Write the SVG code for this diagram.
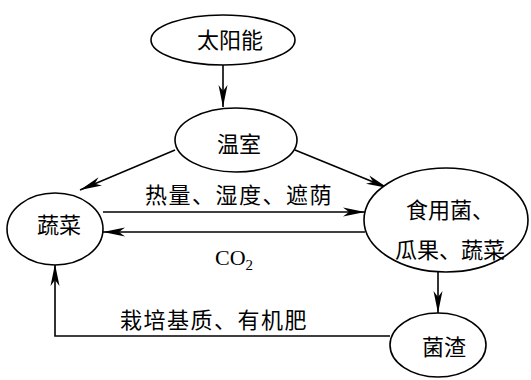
<svg xmlns="http://www.w3.org/2000/svg" width="531" height="380" viewBox="0 0 531 380">
<style>
.n{fill:#fff;stroke:#000;stroke-width:1.6}
.t{font-family:"Noto Sans CJK SC","Noto Sans CJK JP",sans-serif;font-size:22px;fill:#000;text-anchor:middle;dominant-baseline:central}
.e{fill:none;stroke:#000;stroke-width:1.6}
.lbl{font-family:"Noto Sans CJK SC","Noto Sans CJK JP",sans-serif;font-size:22px;fill:#000;letter-spacing:1.5px;dominant-baseline:central}
</style>
<defs>
<marker id="a" markerUnits="userSpaceOnUse" markerWidth="26" markerHeight="12" refX="22" refY="5" orient="auto">
<path d="M22,5 L0,0.5 L6,5 L0,9.5 Z" fill="#000"/>
</marker>
</defs>
<rect width="531" height="380" fill="#fff"/>
<g id="connectors">
<line class="e" x1="223" y1="65" x2="223" y2="107" marker-end="url(#a)"/>
<line class="e" x1="175" y1="150" x2="80" y2="190" marker-end="url(#a)"/>
<line class="e" x1="295" y1="150" x2="388" y2="188" marker-end="url(#a)"/>
<line class="e" x1="103" y1="212" x2="365" y2="212" marker-end="url(#a)"/>
<line class="e" x1="365" y1="232" x2="103" y2="232" marker-end="url(#a)"/>
<line class="e" x1="438" y1="272" x2="438" y2="313" marker-end="url(#a)"/>
<polyline class="e" points="390,336 55,336 55,264" marker-end="url(#a)"/>
<text class="lbl" x="145" y="193">热量、湿度、遮荫</text>
<text x="215" y="265" font-family="Liberation Serif,serif" font-size="22" fill="#000">CO<tspan font-size="15" dy="5">2</tspan></text>
<text class="lbl" x="120" y="318">栽培基质、有机肥</text>
</g>
<g id="taiyangneng">
<ellipse class="n" cx="223" cy="40" rx="72" ry="25"/>
<text class="t" x="230" y="38">太阳能</text>
</g>
<g id="wenshi">
<ellipse class="n" cx="236" cy="140" rx="61" ry="32"/>
<text class="t" x="239" y="142">温室</text>
</g>
<g id="shucai">
<ellipse class="n" cx="55" cy="229" rx="48" ry="36"/>
<text class="t" x="59" y="223">蔬菜</text>
</g>
<g id="shiyongjun">
<ellipse class="n" cx="446" cy="220" rx="82" ry="52"/>
<text class="t" x="450" y="208">食用菌、</text>
<text class="t" x="450" y="248">瓜果、蔬菜</text>
</g>
<g id="junzha">
<ellipse class="n" cx="438" cy="345" rx="48" ry="32"/>
<text class="t" x="444" y="345">菌渣</text>
</g>
</svg>
